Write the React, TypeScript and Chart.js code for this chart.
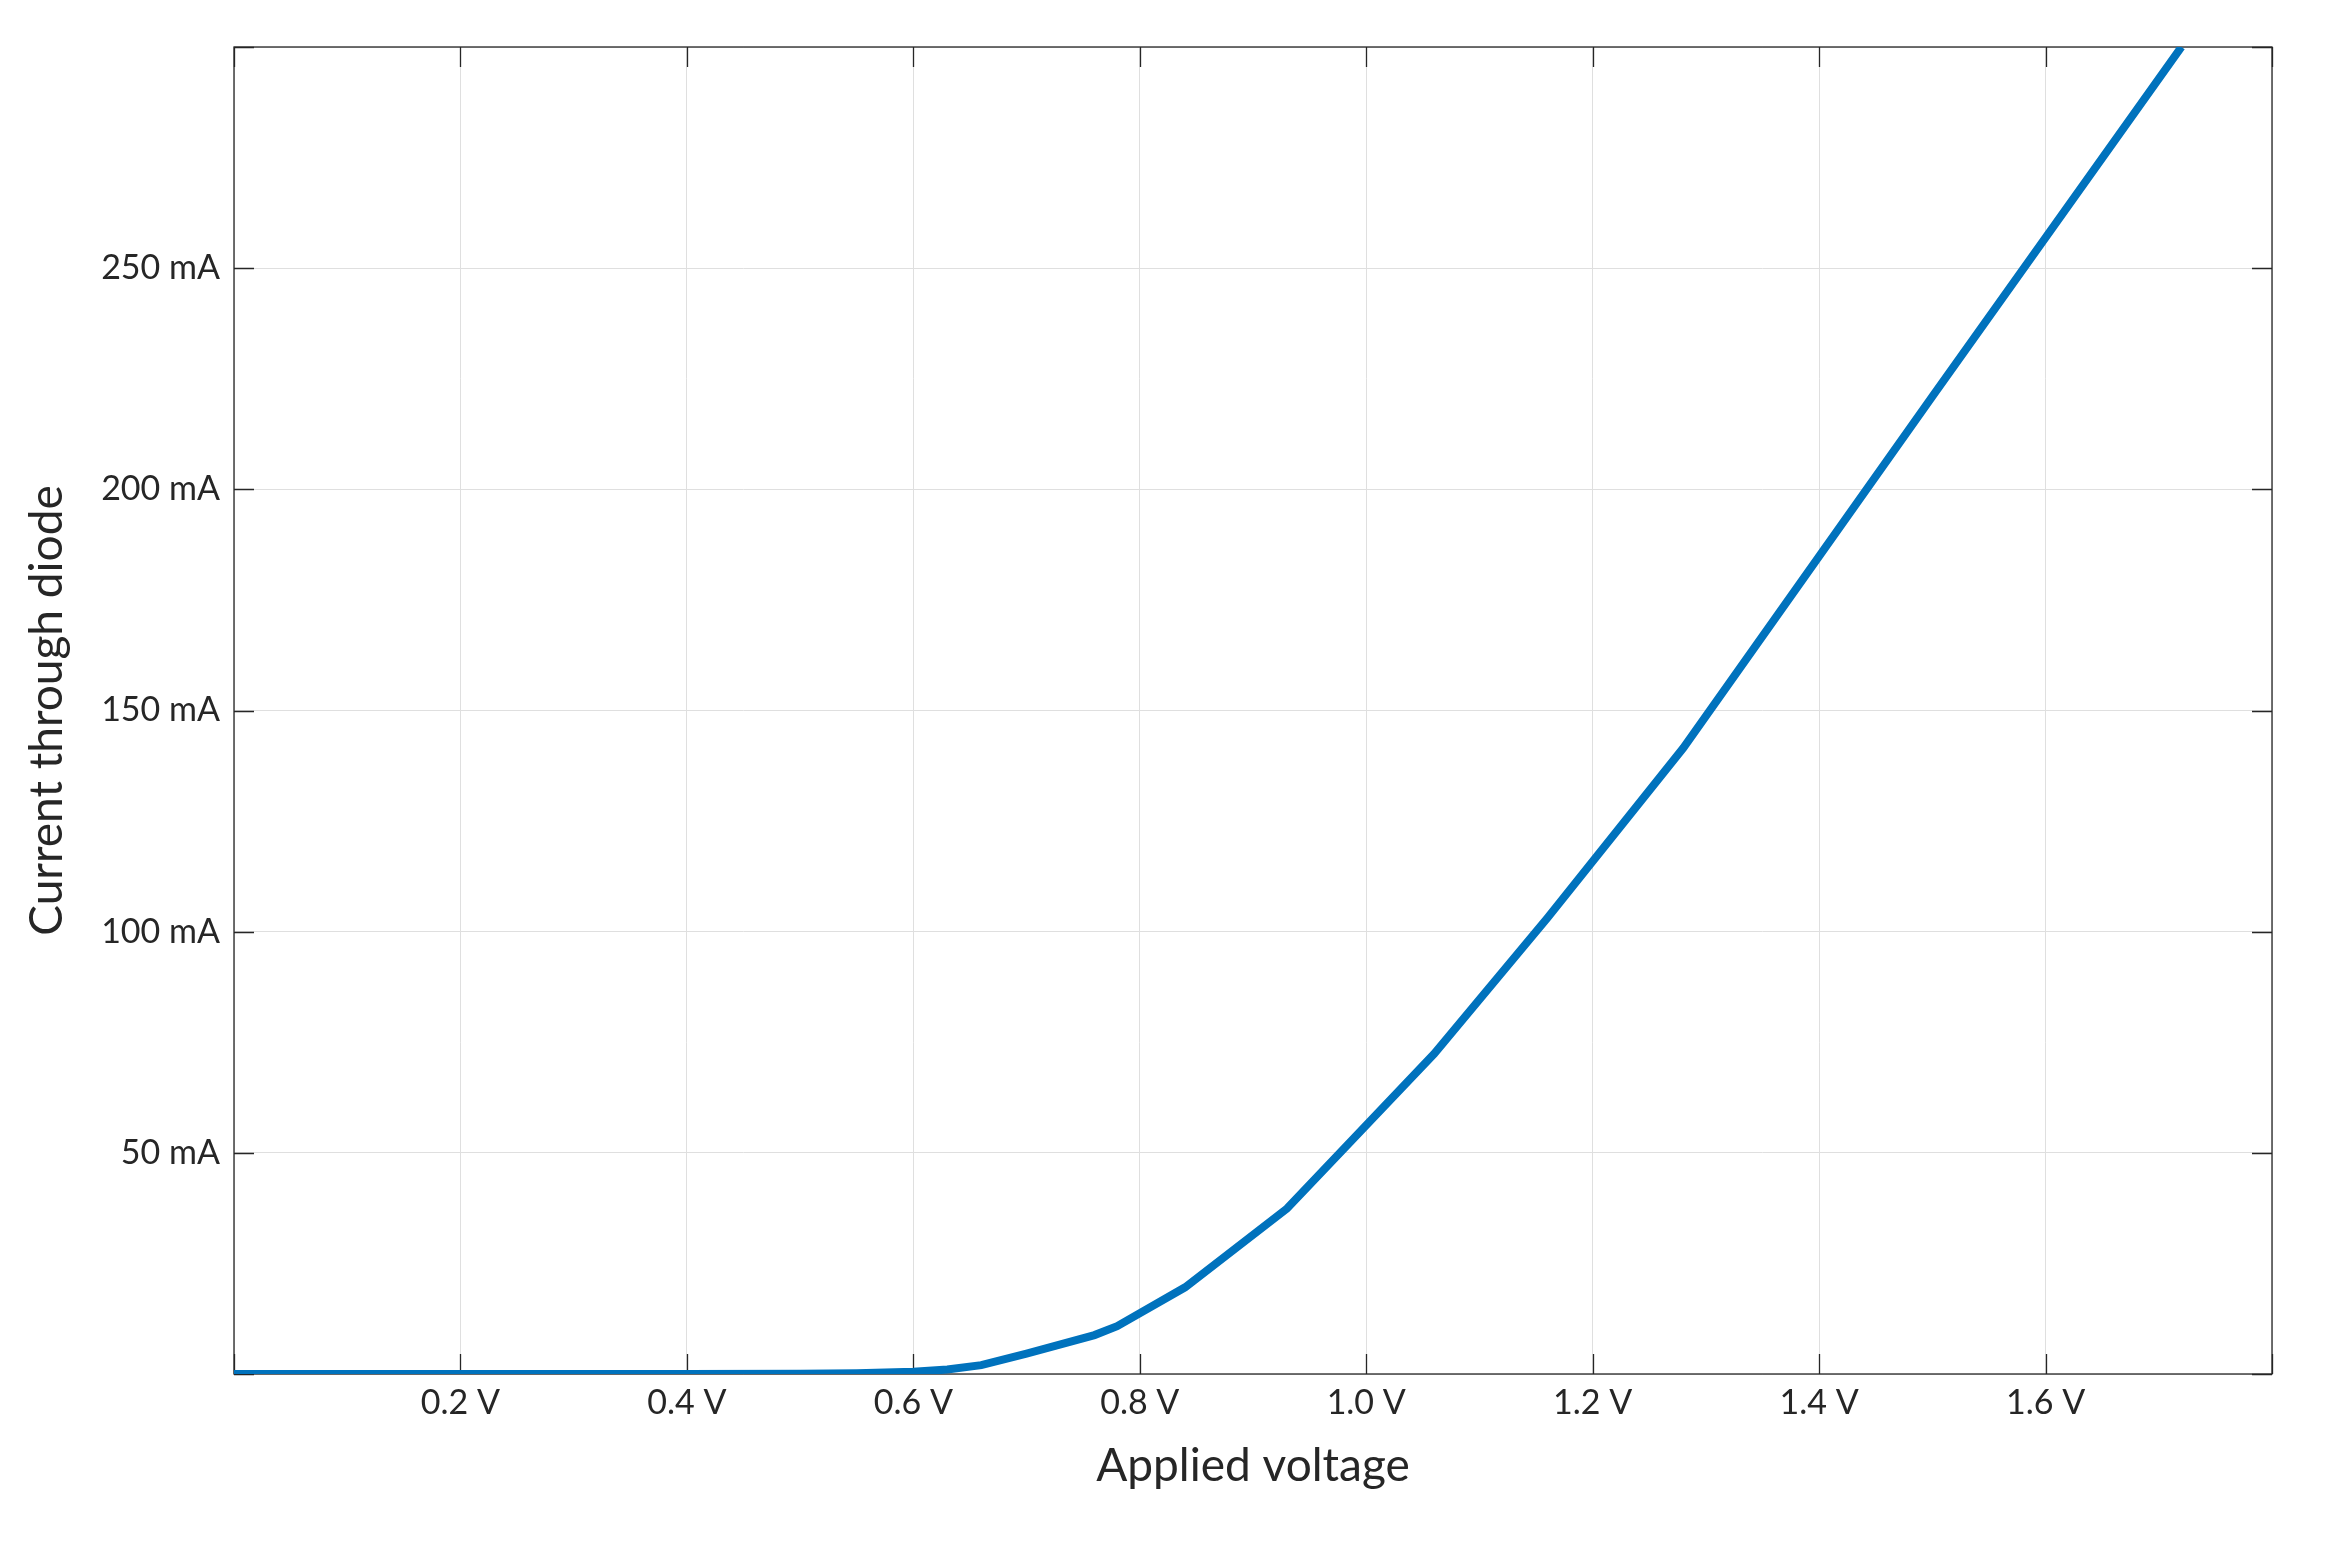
import React, { useEffect, useRef } from "react";
import { Chart, registerables } from "chart.js";

Chart.register(...registerables);

// Applied voltage (V) and diode current (mA)
const voltage = [0, 0.1, 0.2, 0.3, 0.4, 0.5, 0.55, 0.6, 0.63, 0.66, 0.7, 0.76, 0.78, 0.84, 0.93, 1.06, 1.16, 1.28, 1.5, 1.72];
const current = [0, 0, 0, 0, 0, 0.05, 0.15, 0.5, 1.0, 2.0, 4.6, 8.8, 10.8, 19.6, 37.4, 72.4, 103.1, 141.5, 221, 300];

const xMin = 0;
const xMax = 1.8;
const xStep = 0.2;
const yMin = 0;
const yMax = 300;
const yStep = 50;

const xTitle = "Applied voltage";
const yTitle = "Current through diode";

const FONT = "Lato, 'Noto Sans', sans-serif";
const INK = "#262626";

const framePlugin = {
  id: "frameTicks",
  beforeDatasetsDraw(chart: any) {
    const { ctx, chartArea, scales } = chart;
    const { left, right, top, bottom } = chartArea;
    const x = scales.x;
    const y = scales.y;
    const len = 20;
    ctx.save();
    ctx.strokeStyle = INK;
    ctx.lineWidth = 1.3;
    ctx.beginPath();
    x.ticks.forEach((t: any) => {
      const px = Math.round(x.getPixelForValue(t.value)) + 0.5;
      ctx.moveTo(px, bottom);
      ctx.lineTo(px, bottom - len);
      ctx.moveTo(px, top);
      ctx.lineTo(px, top + len);
    });
    y.ticks.forEach((t: any) => {
      const py = Math.round(y.getPixelForValue(t.value)) + 0.5;
      ctx.moveTo(left, py);
      ctx.lineTo(left + len, py);
      ctx.moveTo(right, py);
      ctx.lineTo(right - len, py);
    });
    ctx.stroke();
    ctx.strokeRect(left, top, right - left, bottom - top);
    ctx.restore();
  },
};

export default function App() {
  const canvasRef = useRef<HTMLCanvasElement | null>(null);

  useEffect(() => {
    const canvas = canvasRef.current;
    if (!canvas) return;
    const points = voltage.map((v, i) => ({ x: v, y: current[i] }));
    const chart = new Chart(canvas, {
      type: "line",
      data: {
        datasets: [
          {
            data: points,
            borderColor: "#0072BD",
            borderWidth: 8,
            pointRadius: 0,
            tension: 0,
            fill: false,
            borderCapStyle: "butt",
            borderJoinStyle: "miter",
          },
        ],
      },
      options: {
        responsive: false,
        animation: false,
        devicePixelRatio: 1,
        layout: { padding: { left: 0, top: 47, right: 72, bottom: 0 } },
        plugins: {
          legend: { display: false },
          tooltip: { enabled: false },
        },
        scales: {
          x: {
            type: "linear",
            min: xMin,
            max: xMax,
            afterFit: (s: any) => {
              s.height = 189;
            },
            ticks: {
              stepSize: xStep,
              padding: 9,
              color: INK,
              font: { family: FONT, size: 34 },
              maxRotation: 0,
              autoSkip: false,
              callback: (v: any) => {
                const n = Number(v);
                if (Math.abs(n - xMin) < 1e-6 || Math.abs(n - xMax) < 1e-6) return "";
                return n.toFixed(1) + " V";
              },
            },
            grid: { color: "#dfdfdf", lineWidth: 1, drawTicks: false },
            border: { display: false },
            title: {
              display: true,
              text: xTitle,
              color: INK,
              font: { family: FONT, size: 46 },
              padding: { top: 0, bottom: 69 },
            },
          },
          y: {
            type: "linear",
            min: yMin,
            max: yMax,
            afterFit: (s: any) => {
              s.width = 234;
            },
            ticks: {
              stepSize: yStep,
              padding: 14,
              color: INK,
              font: { family: FONT, size: 34 },
              autoSkip: false,
              callback: (v: any) => {
                const n = Number(v);
                if (n === yMin || n === yMax) return "";
                return n + " mA";
              },
            },
            grid: { color: "#dfdfdf", lineWidth: 1, drawTicks: false },
            border: { display: false },
            title: {
              display: true,
              text: yTitle,
              color: INK,
              font: { family: FONT, size: 46 },
              padding: { top: 20, bottom: 0 },
            },
          },
        },
      },
      plugins: [framePlugin],
    });
    return () => chart.destroy();
  }, []);

  return (
    <div style={{ position: "absolute", left: 0, top: 0, width: 2344, height: 1563, background: "#fff" }}>
      <canvas ref={canvasRef} width={2344} height={1563} style={{ width: 2344, height: 1563, display: "block" }} />
    </div>
  );
}
